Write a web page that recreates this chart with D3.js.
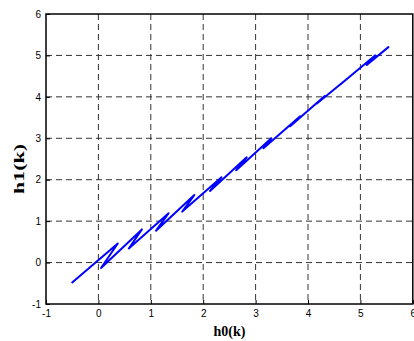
<!DOCTYPE html>
<html><head><meta charset="utf-8">
<script src="https://cdn.jsdelivr.net/npm/d3@7"></script>
<style>body{margin:0;background:#fff}svg{display:block}</style>
</head><body>
<svg id="c" width="414" height="341"></svg>
<script>
const xTicks = [-1,0,1,2,3,4,5,6];
const yTicks = [-1,0,1,2,3,4,5,6];
const h0 = [-0.50,0.37,0.05,0.83,0.58,1.34,1.10,1.83,1.60,2.35,2.13,2.83,2.63,3.30,3.15,3.85,3.66,4.32,4.17,4.80,4.61,5.28,5.12,5.535];
const h1 = [-0.48,0.46,-0.13,0.80,0.34,1.19,0.77,1.63,1.23,2.06,1.73,2.54,2.23,3.00,2.76,3.53,3.29,4.02,3.84,4.49,4.29,5.00,4.77,5.20];
const xLabel = "h0(k)", yLabel = "h1(k)";

const svg = d3.select("#c");
const L=46,T=14,R=412.8,B=304;
const x = d3.scaleLinear().domain([-1,6]).range([L,R]);
const y = d3.scaleLinear().domain([-1,6]).range([B,T]);
const fmt = d => String(d);

const g = svg.append("g");
g.selectAll(".gx").data(xTicks.slice(1,-1)).join("line")
 .attr("x1",d=>x(d)).attr("x2",d=>x(d)).attr("y1",T).attr("y2",B)
 .attr("stroke","#333").attr("stroke-width",1).attr("stroke-dasharray","6,4");
g.selectAll(".gy").data(yTicks.slice(1,-1)).join("line")
 .attr("y1",d=>y(d)).attr("y2",d=>y(d)).attr("x1",L).attr("x2",R)
 .attr("stroke","#333").attr("stroke-width",1).attr("stroke-dasharray","6,4");

const pts = h0.map((v,i)=>[v,h1[i]]);
svg.append("path").datum(pts)
 .attr("d", d3.line().x(d=>x(d[0])).y(d=>y(d[1])))
 .attr("fill","none").attr("stroke","#0000ff").attr("stroke-width",2)
 .attr("stroke-linejoin","round").attr("stroke-linecap","round");

const ax = d3.axisBottom(x).tickValues(xTicks).tickSize(-4).tickPadding(6).tickFormat(fmt);
const ay = d3.axisLeft(y).tickValues(yTicks).tickSize(-4).tickPadding(5).tickFormat(fmt);
const gx = svg.append("g").attr("transform",`translate(0,${B})`).call(ax);
const gy = svg.append("g").attr("transform",`translate(${L},0)`).call(ay);
[gx,gy].forEach(a=>{
  a.select(".domain").remove();
  a.selectAll("text").attr("font-family","Liberation Sans, Arial, sans-serif").attr("font-size",10).attr("fill","#000");
  a.selectAll("line").attr("stroke","#000");
});
svg.append("rect").attr("x",L).attr("y",T).attr("width",R-L).attr("height",B-T)
 .attr("fill","none").attr("stroke","#000").attr("stroke-width",1.5);

svg.append("text").attr("x",(L+R)/2).attr("y",336).attr("text-anchor","middle")
 .attr("font-family","Liberation Serif, Times New Roman, serif").attr("font-weight","bold").attr("font-size",14)
 .text(xLabel);
svg.append("text").attr("transform",`translate(24,169) rotate(-90)`).attr("text-anchor","middle")
 .attr("font-family","Liberation Serif, Times New Roman, serif").attr("font-weight","bold").attr("font-size",14)
 .attr("textLength",50).attr("lengthAdjust","spacingAndGlyphs")
 .text(yLabel);
</script>
</body></html>
